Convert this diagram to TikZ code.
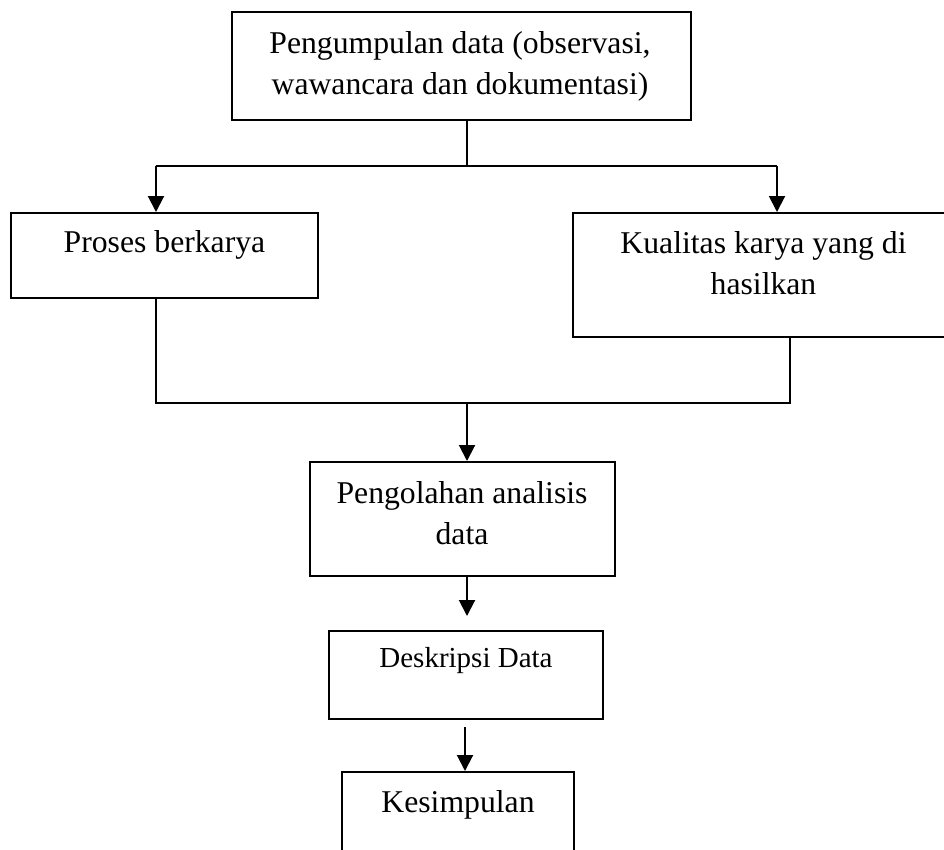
\documentclass[tikz,border=0pt]{standalone}
\usepackage{fontspec}
\setmainfont{Liberation Serif}
\usetikzlibrary{arrows.meta}
\tikzset{
  box/.style={draw, line width=2pt, inner sep=0pt},
  txt/.style={align=center, inner sep=0pt, anchor=base, font=\fontsize{31.7}{41}\selectfont},
  smalltxt/.style={txt, font=\fontsize{29}{38}\selectfont},
  conn/.style={line width=2pt},
  arr/.style={conn, -{Triangle[length=16pt,width=16pt]}}
}
\begin{document}
\begin{tikzpicture}[x=1pt,y=1pt]
\useasboundingbox (0,0) rectangle (944,-849);
\clip (0,0) rectangle (944,-849);
% boxes
\node[box, minimum width=459pt, minimum height=108pt] (top) at (461.5,-66) {};
\node[box, minimum width=307pt, minimum height=85pt] (left) at (164.5,-255.5) {};
\node[box, minimum width=381pt, minimum height=124pt] (right) at (763.5,-275) {};
\node[box, minimum width=305pt, minimum height=114pt] (mid) at (462.5,-519) {};
\node[box, minimum width=274pt, minimum height=88pt] (desk) at (466,-675) {};
\node[box, minimum width=232pt, minimum height=108pt] (kes) at (458,-826) {};
% texts (base anchor = last line's baseline)
\node[txt] (ttop) at (460,-94) {Pengumpulan data (observasi,\\wawancara dan dokumentasi)};
\node[txt] (tleft) at (164.5,-252) {Proses berkarya};
\node[txt] (tright) at (763.5,-294) {Kualitas karya yang di\\hasilkan};
\node[txt] (tmid) at (462,-544) {Pengolahan analisis\\data};
\node[smalltxt] (tdesk) at (466,-667) {Deskripsi Data};
\node[txt] (tkes) at (458,-812) {Kesimpulan};
% junction points
\coordinate (j0) at (467,-166);
\coordinate (jl) at (156,-166);
\coordinate (jr) at (777,-166);
\coordinate (bl) at (156,-403);
\coordinate (br) at (790,-403);
\coordinate (bm) at (467,-403);
\coordinate (a1) at (467,-616);
\coordinate (a2) at (465,-727);
% connectors
\draw[conn] (top.south -| j0) -- (j0);
\draw[conn] (jl) -- (jr);
\draw[arr] (jl) -- (jl |- left.north);
\draw[arr] (jr) -- (jr |- right.north);
\draw[conn] (left.south -| bl) -- (bl) -- (br) -- (right.south -| br);
\draw[arr] (bm) -- (bm |- mid.north);
\draw[arr] (mid.south -| a1) -- (a1);
\draw[arr] (a2) -- (a2 |- kes.north);
\end{tikzpicture}
\end{document}
